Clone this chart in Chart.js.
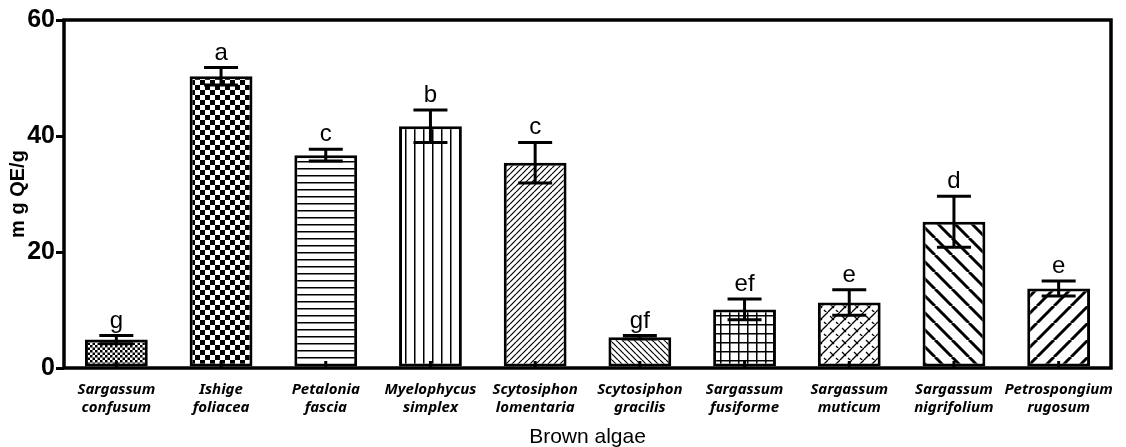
<!DOCTYPE html>
<html>
<head>
<meta charset="utf-8">
<script src="https://cdn.jsdelivr.net/npm/chart.js@4.4.1/dist/chart.umd.min.js"></script>
<style>
  html, body { margin: 0; padding: 0; background: #fff; }
  #wrap { width: 1126px; height: 447px; }
</style>
</head>
<body>
<div id="wrap"><canvas id="algae"></canvas></div>
<script>
// data
const species = [
    ['Sargassum', 'confusum'],
    ['Ishige', 'foliacea'],
    ['Petalonia', 'fascia'],
    ['Myelophycus', 'simplex'],
    ['Scytosiphon', 'lomentaria'],
    ['Scytosiphon', 'gracilis'],
    ['Sargassum', 'fusiforme'],
    ['Sargassum', 'muticum'],
    ['Sargassum', 'nigrifolium'],
    ['Petrospongium', 'rugosum']
];
const flavonoid = [4.9, 50.3, 36.7, 41.7, 35.4, 5.3, 10.1, 11.3, 25.2, 13.7];
const sd = [0.7, 1.5, 1.0, 2.8, 3.5, 0.3, 1.8, 2.2, 4.4, 1.3];
const letters = ['g', 'a', 'c', 'b', 'c', 'gf', 'ef', 'e', 'd', 'e'];
const yTicks = [0, 20, 40, 60];

// hatch patterns for the bars
function tile(w, h, draw){
    var c = document.createElement('canvas');
    c.width = w; c.height = h;
    var x = c.getContext('2d');
    x.fillStyle = '#fff';
    x.fillRect(0, 0, w, h);
    x.fillStyle = '#000';
    x.strokeStyle = '#000';
    draw(x, w, h);
    return x.createPattern(c, 'repeat');
}
function diag(n, lw, up){
    return tile(n, n, function(x){
        x.lineWidth = lw;
        for (var k = -1; k <= 1; k++){
            x.beginPath();
            if (up){ x.moveTo(k*n, n); x.lineTo(k*n + n, 0); }
            else { x.moveTo(k*n, 0); x.lineTo(k*n + n, n); }
            x.stroke();
        }
    });
}
const fills = [
    tile(5, 5, function(x){ x.fillRect(0, 0, 2.5, 2.5); x.fillRect(2.5, 2.5, 2.5, 2.5); }),
    tile(10, 10, function(x){ x.fillRect(0, 0, 5, 5); x.fillRect(5, 5, 5, 5); }),
    tile(8, 7, function(x){ x.fillRect(0, 0, 8, 1.5); }),
    tile(9, 8, function(x){ x.fillRect(0, 0, 1.5, 8); }),
    diag(6, 1.2, true),
    diag(6, 1.2, false),
    tile(9, 9, function(x){ x.fillRect(0, 0, 9, 1.5); x.fillRect(0, 0, 1.5, 9); }),
    tile(12, 12, function(x){
        x.lineWidth = 1.3;
        for (var k = -1; k <= 1; k++){
            x.beginPath(); x.moveTo(k*12, 12); x.lineTo(k*12 + 12, 0); x.stroke();
        }
        x.beginPath(); x.moveTo(2, 4); x.lineTo(6, 8); x.stroke();
        x.beginPath(); x.moveTo(8, 10); x.lineTo(11, 13); x.stroke();
    }),
    diag(17, 3, false),
    diag(17, 3, true)
];

const frameAndErrors = {
    id: 'frameAndErrors',
    afterDatasetsDraw(chart){
        const ctx = chart.ctx;
        const a = chart.chartArea;
        const xs = chart.scales.x, ys = chart.scales.y;
        ctx.save();
        ctx.strokeStyle = '#000';
        ctx.fillStyle = '#000';
        ctx.lineWidth = 3;
        ctx.lineCap = 'butt';
        flavonoid.forEach(function(v, i){
            const cx = xs.getPixelForValue(i);
            const top = ys.getPixelForValue(v + sd[i]);
            const bot = ys.getPixelForValue(v - sd[i]);
            ctx.beginPath();
            ctx.moveTo(cx, top); ctx.lineTo(cx, bot);
            ctx.moveTo(cx - 17, top); ctx.lineTo(cx + 17, top);
            ctx.moveTo(cx - 17, bot); ctx.lineTo(cx + 17, bot);
            ctx.stroke();
            // small stub at bar base
            ctx.beginPath();
            ctx.moveTo(cx, a.bottom); ctx.lineTo(cx, a.bottom - 7);
            ctx.stroke();
            ctx.font = '24px "Liberation Sans", Arial';
            ctx.textAlign = 'center';
            ctx.textBaseline = 'alphabetic';
            ctx.fillText(letters[i], cx, top - 8);
        });
        ctx.lineWidth = 3.5;
        ctx.strokeRect(a.left, a.top, a.right - a.left, a.bottom - a.top);
        ctx.restore();
    }
};

new Chart(document.getElementById('algae').getContext('2d'), {
    type: 'bar',
    data: {
        labels: species,
        datasets: [{
            label: 'mg QE/g',
            data: flavonoid,
            backgroundColor: fills,
            borderColor: '#000',
            borderWidth: 3,
            borderSkipped: false,
            barPercentage: 0.6,
            categoryPercentage: 1.0
        }]
    },
    options: {
        responsive: true,
        maintainAspectRatio: false,
        animation: false,
        layout: { padding: { top: 20, right: 15, left: 0, bottom: 0 } },
        plugins: {
            legend: { display: false },
            tooltip: { enabled: false }
        },
        scales: {
            x: {
                grid: { display: false },
                border: { display: false },
                ticks: {
                    color: '#000',
                    font: { family: '"Noto Sans", sans-serif', size: 15, style: 'italic', weight: 'bold', lineHeight: 1.2 },
                    maxRotation: 0,
                    minRotation: 0,
                    autoSkip: false,
                    padding: 5
                },
                title: {
                    display: true,
                    text: 'Brown algae',
                    color: '#000',
                    font: { family: '"Liberation Sans", Arial', size: 21 },
                    padding: { top: 0, bottom: -3 }
                },
                afterFit(scale){ scale.height = 79; }
            },
            y: {
                min: 0,
                max: 60,
                afterBuildTicks(scale){ scale.ticks = yTicks.map(function(v){ return { value: v }; }); },
                grid: { drawOnChartArea: false, color: '#000', lineWidth: 3, tickLength: 8 },
                border: { display: false },
                ticks: {
                    color: '#000',
                    font: { family: '"Liberation Sans", Arial', size: 25, weight: 'bold' },
                    padding: 1
                },
                title: {
                    display: true,
                    text: 'm g QE/g',
                    color: '#000',
                    font: { family: '"Liberation Sans", Arial', size: 20, weight: 'bold' },
                    padding: { top: 6, bottom: 0 }
                },
                afterFit(scale){ scale.width = 64; }
            }
        }
    },
    plugins: [frameAndErrors]
});
</script>
</body>
</html>
